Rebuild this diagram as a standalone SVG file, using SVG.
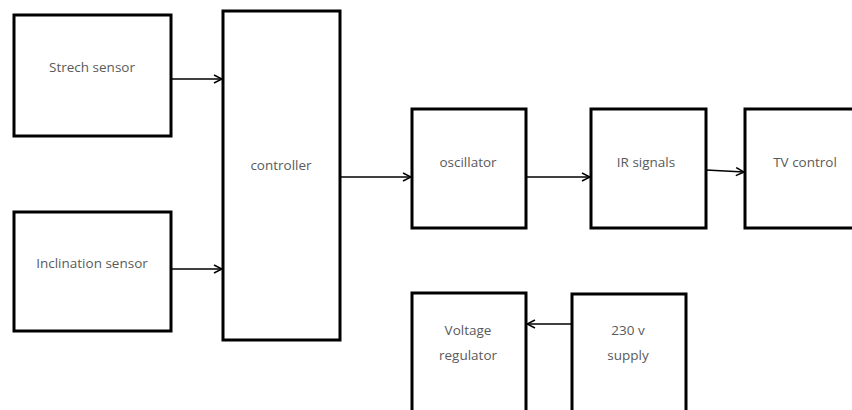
<svg xmlns="http://www.w3.org/2000/svg" width="852" height="410" viewBox="0 0 852 410">
<style>
.box{fill:#fff;stroke:#000;stroke-width:3}
.t{font-family:"Open Sans","Liberation Sans",Arial,sans-serif;font-size:13.5px;fill:#5a5a5a;text-anchor:middle}
.c{stroke:#000;stroke-width:1.5;fill:none}
</style>
<defs>
<marker id="a" markerWidth="10" markerHeight="10" refX="9" refY="5" orient="auto" markerUnits="userSpaceOnUse">
<polyline points="1,1 9,5 1,9" fill="none" stroke="#000" stroke-width="1.5"/>
</marker>
</defs>
<rect width="852" height="410" fill="#fff"/>
<g id="strech"><rect class="box" x="14" y="15" width="157" height="121"/><text class="t" x="92" y="72">Strech sensor</text></g>
<g id="inclination"><rect class="box" x="14" y="212" width="157" height="119"/><text class="t" x="92" y="268">Inclination sensor</text></g>
<g id="controller"><rect class="box" x="223" y="11" width="117" height="329"/><text class="t" x="281" y="170">controller</text></g>
<g id="oscillator"><rect class="box" x="412" y="109" width="114" height="119"/><text class="t" x="468" y="167">oscillator</text></g>
<g id="ir"><rect class="box" x="591" y="109" width="115" height="119"/><text class="t" x="646" y="167">IR signals</text></g>
<g id="tv"><rect class="box" x="745" y="109" width="120" height="119"/><text class="t" x="805" y="167">TV control</text></g>
<g id="regulator"><rect class="box" x="412" y="293" width="114" height="130"/><text class="t" x="468" y="335">Voltage</text><text class="t" x="468" y="360">regulator</text></g>
<g id="supply"><rect class="box" x="572" y="294" width="114" height="130"/><text class="t" x="628" y="335">230 v</text><text class="t" x="628" y="360">supply</text></g>
<g id="connectors">
<line class="c" x1="171" y1="79" x2="222" y2="79" marker-end="url(#a)"/>
<line class="c" x1="171" y1="269" x2="222" y2="269" marker-end="url(#a)"/>
<line class="c" x1="340" y1="177" x2="411" y2="177" marker-end="url(#a)"/>
<line class="c" x1="526" y1="177" x2="590" y2="177" marker-end="url(#a)"/>
<line class="c" x1="706" y1="170" x2="744" y2="172" marker-end="url(#a)"/>
<line class="c" x1="572" y1="324" x2="527" y2="324" marker-end="url(#a)"/>
</g>
</svg>
